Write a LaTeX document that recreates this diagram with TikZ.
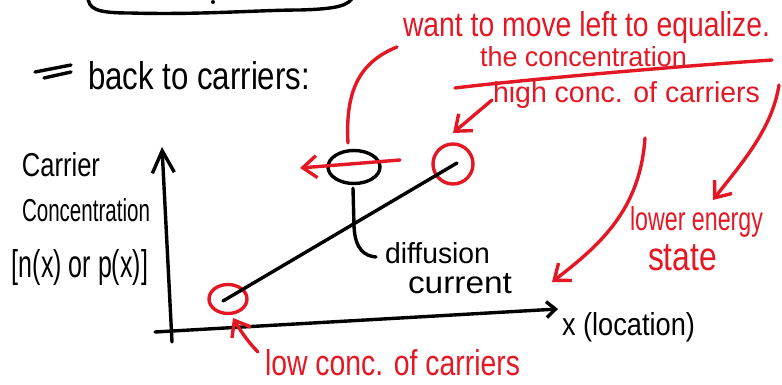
\documentclass[tikz,border=0pt]{standalone}
\usepackage{graphicx}
\usepackage{fontspec}
\setmainfont{Liberation Sans}
\usetikzlibrary{arrows.meta,shapes.geometric}
\definecolor{inkred}{RGB}{228,24,36}
\newcommand\hw[3]{\resizebox{#1pt}{#2pt}{\fontsize{30}{30}\selectfont #3}}
\tikzset{
  ink/.style={line width=3.4pt, line cap=round, line join=round},
  blk/.style={ink, draw=black},
  rd/.style={ink, draw=inkred},
  bigbarb/.style={-{Straight Barb[length=22pt,width=22pt]}},
  smallbarb/.style={-{Straight Barb[length=9pt,width=16pt]}},
  redbarb/.style={-{Straight Barb[length=14pt,width=22pt]}},
  lbl/.style={anchor=base west, inner sep=0pt, outer sep=0pt},
  blab/.style={lbl, text=black},
  rlab/.style={lbl, text=inkred},
  ring/.style={ellipse, ink, inner sep=0pt, fill=none},
}
\begin{document}
\begin{tikzpicture}[x=1pt,y=-1pt]
\useasboundingbox (0,0) rectangle (782,385);

% top partial box
\draw[blk] (88,-4) .. controls (88,9) and (96,13) .. (130,13)
  .. controls (200,15) and (260,10) .. (300,10)
  .. controls (335,9) and (350,6) .. (353,-4);
\fill (213,2) circle (2pt);

% "=" and heading
\draw[blk] (35,72) -- (71,65);
\draw[blk] (44,78) -- (71,72);
\node[blab] (back) at (88,90) {\hw{222}{28}{back to carriers:}};

% axes
\coordinate (yb) at (172,342);
\coordinate (yt) at (162,147);
\coordinate (xl) at (155,332);
\coordinate (xr) at (558,309);
\draw[blk, bigbarb] (yb) -- (yt);
\draw[blk, smallbarb] (xl) -- (xr);

% axis labels
\node[blab] (yl1) at (22,177) {\hw{78}{24}{Carrier}};
\node[blab] (yl2) at (22,222) {\hw{128}{23}{Concentration}};
\node[blab] (yl3) at (12,277) {\hw{136}{28}{[n(x) or p(x)]}};
\node[blab] (xlab) at (562,335) {\hw{133}{23}{x (location)}};

% circles and ellipse
\node[ring, draw=inkred, minimum width=38pt, minimum height=29pt] (lowc) at (228,299) {};
\node[ring, draw=inkred, minimum width=40pt, minimum height=40pt] (highc) at (453,164) {};
\node[ring, draw=black, minimum width=52pt, minimum height=33pt] (blob) at (354,167) {};

% data line
\coordinate (d0) at (223,301);
\coordinate (d1) at (457,163);
\draw[blk] (d0) -- (d1);

% diffusion current
\node[blab] (diff) at (385,263) {\hw{105}{21}{diffusion}};
\node[blab] (curr) at (408,293) {\hw{104}{20}{current}};
\coordinate (dcend) at (376,257);
\path (blob.south) ++(-1,3) coordinate (dcstart);
\draw[blk] (dcstart) -- (354,226) .. controls (355,250) and (365,256) .. (dcend);

% red arrow through ellipse
\coordinate (la0) at (400,160);
\coordinate (la1) at (300,168);
\draw[rd, redbarb] (la0) -- (la1);

% top red text
\node[rlab] (want) at (403,37) {\hw{367}{25}{want to move left to equalize.}};
\node[rlab] (thec) at (480,67) {\hw{207}{20}{the concentration}};
\coordinate (w0) at (397,47);
\coordinate (w1) at (348,143);
\draw[rd] (w0) .. controls (360,62) and (345,90) .. (w1);

% separator line
\coordinate (s0) at (455,88);
\coordinate (s1) at (772,60);
\draw[rd] (s0) .. controls (520,80) and (680,66) .. (s1);

% high conc
\node[rlab] (high) at (493,103) {\hw{267}{21}{high conc. of carriers}};
\coordinate (h0) at (492,100);
\coordinate (h1) at (453,133);
\draw[rd, redbarb] (h0) -- (h1);

% low conc
\node[rlab] (low) at (265,375) {\hw{255}{26}{low conc. of carriers}};
\coordinate (l0) at (258,352);
\coordinate (l1) at (233,318);
\draw[rd, redbarb] (l0) .. controls (248,342) and (240,330) .. (l1);

% long arrows on the right
\coordinate (r0) at (645,138);
\coordinate (r1) at (552,282);
\draw[rd, redbarb] (r0) .. controls (640,210) and (600,245) .. (r1);
\coordinate (e0) at (779,85);
\coordinate (e1) at (713,200);
\draw[rd, redbarb] (e0) .. controls (772,130) and (740,165) .. (e1);

% lower energy state
\node[rlab] (lower) at (630,230) {\hw{133}{24}{lower energy}};
\node[rlab] (state) at (648,270) {\hw{69}{26}{state}};
\end{tikzpicture}
\end{document}
